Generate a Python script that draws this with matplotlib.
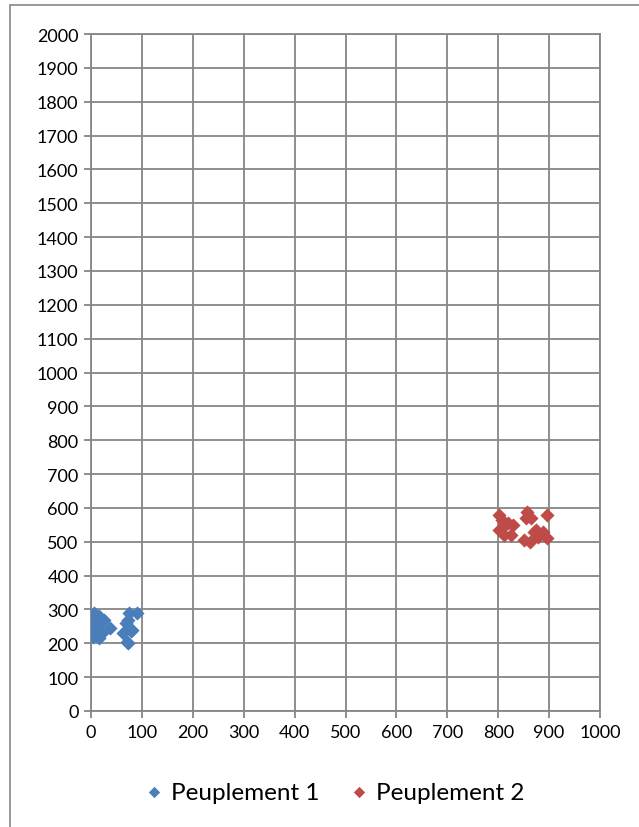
import matplotlib
matplotlib.use("Agg")
import matplotlib.pyplot as plt
from matplotlib.patches import Rectangle

plt.rcParams['font.family'] = ['Lato', 'DejaVu Sans']

# Data
p1_x = [5, 10, 15, 20, 8, 12, 18, 3, 15, 22, 10, 37, 62, 70, 72, 75, 80, 90, 68, 73, 78, 2, 25]
p1_y = [290, 275, 280, 260, 250, 240, 230, 220, 215, 230, 265, 245, 230, 205, 200, 290, 240, 290, 260, 270, 235, 260, 270]
p2_x = [802, 808, 820, 802, 812, 825, 857, 855, 865, 896, 870, 851, 863, 878, 888, 896, 875, 810, 830]
p2_y = [578, 564, 555, 535, 520, 520, 588, 570, 570, 578, 530, 505, 500, 515, 530, 510, 535, 545, 550]
names = ["Peuplement 1", "Peuplement 2"]
colors = ["#4A7EBB", "#BE4B48"]

W, H = 639, 828
fig = plt.figure(figsize=(W/100, H/100), dpi=100)
fig.patches.append(Rectangle((10/W, -0.1), 1.2, (H - 6)/H + 0.1, transform=fig.transFigure,
                             fill=False, edgecolor="#888888", linewidth=1.2))
ax = fig.add_axes([91/W, 1 - 712/H, (600 - 91)/W, (712 - 35)/H])

ax.scatter(p1_x, p1_y, marker="D", s=52, color=colors[0], label=names[0], zorder=3, linewidths=0)
ax.scatter(p2_x, p2_y, marker="D", s=52, color=colors[1], label=names[1], zorder=3, linewidths=0)

ax.set_xlim(0, 1000)
ax.set_ylim(0, 2000)
ax.set_xticks(range(0, 1001, 100))
ax.set_yticks(range(0, 2001, 100))
ax.grid(True, color="#868686", linewidth=1.3)
ax.set_axisbelow(True)
for s in ax.spines.values():
    s.set_color("#868686")
    s.set_linewidth(1.3)
ax.tick_params(axis="both", color="#868686", width=1.3, length=5, labelsize=13, pad=4)

leg = fig.legend(loc="center", bbox_to_anchor=(333/W, 1 - 793/H), ncol=2, frameon=False,
                 fontsize=17.5, handletextpad=0.2, columnspacing=1.15, markerscale=0.8,
                 handlelength=1.0)

fig.savefig("out.png", dpi=100)
